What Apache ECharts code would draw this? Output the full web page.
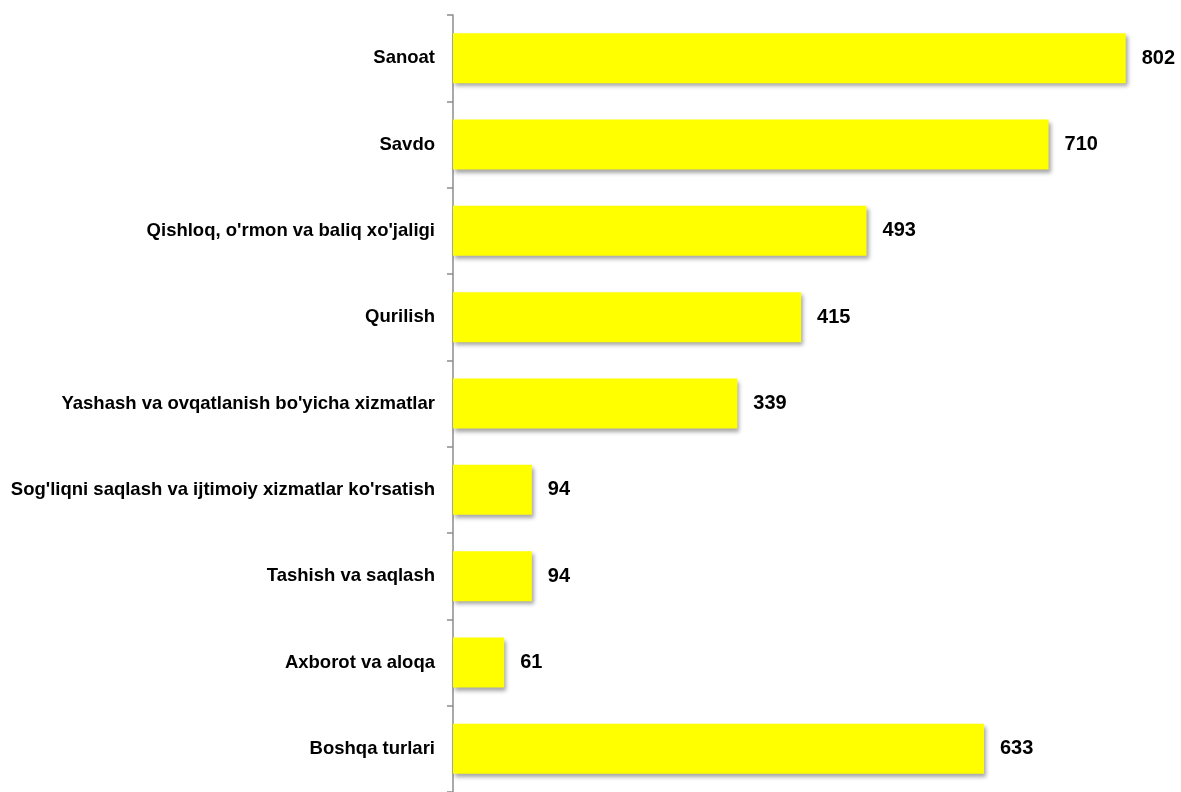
<!DOCTYPE html>
<html>
<head>
<meta charset="utf-8">
<script src="https://cdn.jsdelivr.net/npm/echarts@6/dist/echarts.min.js"></script>
<style>
html,body{margin:0;padding:0;background:#fff;}
#chart{width:1181px;height:792px;}
</style>
</head>
<body>
<div id="chart"></div>
<script>
const categories = [
  "Sanoat",
  "Savdo",
  "Qishloq, o'rmon va baliq xo'jaligi",
  "Qurilish",
  "Yashash va ovqatlanish bo'yicha xizmatlar",
  "Sog'liqni saqlash va ijtimoiy xizmatlar ko'rsatish",
  "Tashish va saqlash",
  "Axborot va aloqa",
  "Boshqa turlari"
];
const values = [802, 710, 493, 415, 339, 94, 94, 61, 633];

const FONT = "'Liberation Sans', Arial, sans-serif";
const chart = echarts.init(document.getElementById('chart'), null, {renderer: 'canvas'});
chart.setOption({
  animation: false,
  backgroundColor: '#ffffff',
  grid: {left: 453, top: 15, width: 713, height: 781, containLabel: false},
  xAxis: {
    type: 'value', min: 0, max: 850, show: false
  },
  yAxis: {
    type: 'category',
    data: categories,
    inverse: true,
    axisLine: {show: true, lineStyle: {color: '#8c8c8c', width: 1.5}},
    axisTick: {show: true, length: 6, lineStyle: {color: '#8c8c8c', width: 1.5}},
    axisLabel: {
      margin: 18, color: '#000', fontSize: 18.5, fontWeight: 'bold', fontFamily: FONT,
      padding: [4, 0, 0, 0]
    },
    splitLine: {show: false}
  },
  series: [{
    type: 'bar',
    data: values,
    barWidth: 50,
    itemStyle: {
      color: '#ffff00',
      shadowColor: 'rgba(0,0,0,0.35)',
      shadowBlur: 4,
      shadowOffsetX: 2,
      shadowOffsetY: 3
    },
    label: {
      show: true, position: 'right', distance: 16,
      color: '#000', fontSize: 20, fontWeight: 'bold', fontFamily: FONT,
      padding: [4, 0, 0, 0]
    }
  }]
});
</script>
</body>
</html>
